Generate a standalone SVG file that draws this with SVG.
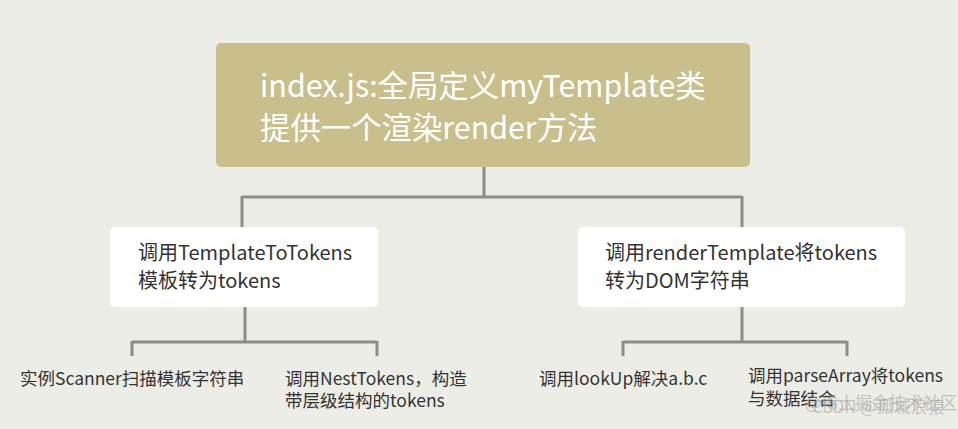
<svg xmlns="http://www.w3.org/2000/svg" width="958" height="429" viewBox="0 0 958 429">
<style>
text{font-family:"Microsoft YaHei","Noto Sans CJK SC","Noto Sans",sans-serif}
.root{fill:#C8BF8D}
.rt{fill:#FFFFFF;font-size:30.4px}
.box{fill:#FFFFFF}
.bt{fill:#333333;font-size:20px}
.lt{fill:#333333;font-size:17.5px}
.wm{fill:#9A9A96;font-size:17px;opacity:0.5}
.con{fill:none;stroke:#8C8C88;stroke-width:3}
</style>
<rect width="958" height="429" fill="#EDEDE8"/>
<g id="connectors">
<path class="con" d="M484,167V197M242,197H742M242,196V228M742,196V228"/>
<path class="con" d="M245,307V342M132,342H377M132,341V356M377,341V356"/>
<path class="con" d="M742,307V342M623,342H847M623,341V356M847,341V356"/>
</g>
<g id="root">
<rect class="root" x="216" y="43" width="534" height="124" rx="5"/>
<text class="rt" x="260" y="97">index.js:全局定义myTemplate类</text>
<text class="rt" x="260" y="139">提供一个渲染render方法</text>
</g>
<g id="left">
<rect class="box" x="110" y="227" width="268" height="80" rx="5"/>
<text class="bt" x="138" y="260">调用TemplateToTokens</text>
<text class="bt" x="138" y="288">模板转为tokens</text>
</g>
<g id="right">
<rect class="box" x="578" y="227" width="327" height="80" rx="5"/>
<text class="bt" x="605" y="260">调用renderTemplate将tokens</text>
<text class="bt" x="605" y="288">转为DOM字符串</text>
</g>
<g id="leaf1">
<text class="lt" x="20" y="385">实例Scanner扫描模板字符串</text>
</g>
<g id="leaf2">
<text class="lt" x="285" y="385">调用NestTokens，构造</text>
<text class="lt" x="285" y="407">带层级结构的tokens</text>
</g>
<g id="leaf3">
<text class="lt" x="539" y="385">调用lookUp解决a.b.c</text>
</g>
<g id="leaf4">
<text class="lt" x="748" y="382">调用parseArray将tokens</text>
<text class="lt" x="748" y="405">与数据结合</text>
</g>
<g id="watermark">
<text class="wm" x="805" y="409">@稀土掘金技术社区</text>
<text class="wm" x="812" y="413">CSDN @孤城浪猿</text>
</g>
</svg>
